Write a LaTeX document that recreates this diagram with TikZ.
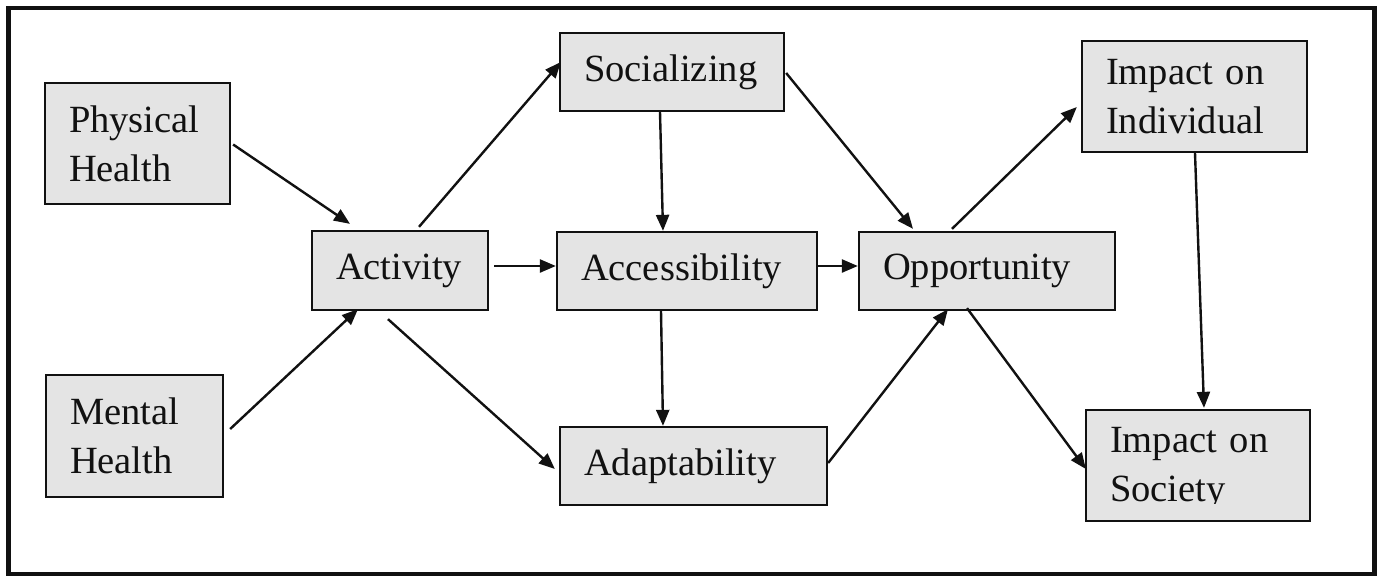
\documentclass[tikz,border=0pt]{standalone}
\usepackage{fontspec}
\setmainfont{Liberation Serif}
\usepackage{trimclip}
\usetikzlibrary{arrows.meta,calc}
\definecolor{boxfill}{HTML}{E4E4E4}
\definecolor{ink}{HTML}{111111}
\tikzset{
  box/.style={draw=ink, fill=boxfill, line width=2.3pt, rectangle, inner xsep=24pt, inner ysep=0pt,
    align=left, font=\fontsize{38.5pt}{49pt}\selectfont, text=ink},
  arr/.style={draw=ink, line width=2.4pt, -{Triangle[length=16pt,width=13pt]}},
}
\begin{document}
\begin{tikzpicture}[x=1pt,y=-1pt]
\useasboundingbox (0,0) rectangle (1380,576);
\draw[line width=4.5pt, ink] (8.5,8) rectangle (1374.5,574);

\node[box, minimum width=185pt, text width=137pt, minimum height=121pt] (ph) at (137.5,143.5) {Physical\\Health};
\node[box, minimum width=177pt, text width=129pt, minimum height=122pt] (mh) at (134.5,436) {Mental\\Health};
\node[box, minimum width=176pt, text width=128pt, minimum height=79pt] (act) at (400,270.5) {Activity};
\node[box, minimum width=224pt, text width=176pt, minimum height=78pt] (soc) at (672,72) {Socializing};
\node[box, minimum width=260pt, text width=212pt, minimum height=78pt] (acc) at (687,271) {Accessibility};
\node[box, minimum width=267pt, text width=219pt, minimum height=78pt] (ada) at (693.5,466) {Adaptability};
\node[box, minimum width=256pt, text width=208pt, minimum height=78pt] (opp) at (987,271) {Opportunity};
\node[box, minimum width=225pt, text width=177pt, minimum height=111pt] (ii) at (1194.5,96.5) {Impact on\\Individual};
\node[box, minimum width=224pt, text width=176pt, minimum height=111pt] (is) at (1198,465.5) {Impact on\\\clipbox{0pt 6pt 0pt 0pt}{Society}};

\draw[arr] ($(ph.east)+(2,1)$) -- ($(act.north)+(-50,-6)$);
\draw[arr] ($(mh.east)+(6,-7)$) -- ($(act.south)+(-42,-2)$);
\draw[arr] ($(act.north)+(19,-3)$) -- ($(soc.west)+(2,-10)$);
\draw[arr] ($(act.east)+(5,-4.5)$) -- ($(acc.west)+(0,-5)$);
\draw[arr] ($(act.south)+(-12,8)$) -- ($(ada.west)+(-4,3)$);
\draw[arr] ($(soc.south)+(-12,0)$) -- ($(acc.north)+(-24,0)$);
\draw[arr] ($(soc.east)+(1,1)$) -- ($(opp.north)+(-74,-2)$);
\draw[arr] ($(acc.east)+(0,-5)$) -- ($(opp.west)+(0,-5)$);
\draw[arr] ($(acc.south)+(-26,0)$) -- ($(ada.north)+(-30.5,0)$);
\draw[arr] ($(ada.east)+(0,-3)$) -- ($(opp.south)+(-39,-2)$);
\draw[arr] ($(opp.north)+(-35,-2)$) -- ($(ii.west)+(-4,10.5)$);
\draw[arr] ($(opp.south)+(-20,-3)$) -- ($(is.west)+(1,3.5)$);
\draw[arr] ($(ii.south)+(0.5,0)$) -- ($(is.north)+(6,-1)$);
\end{tikzpicture}
\end{document}
